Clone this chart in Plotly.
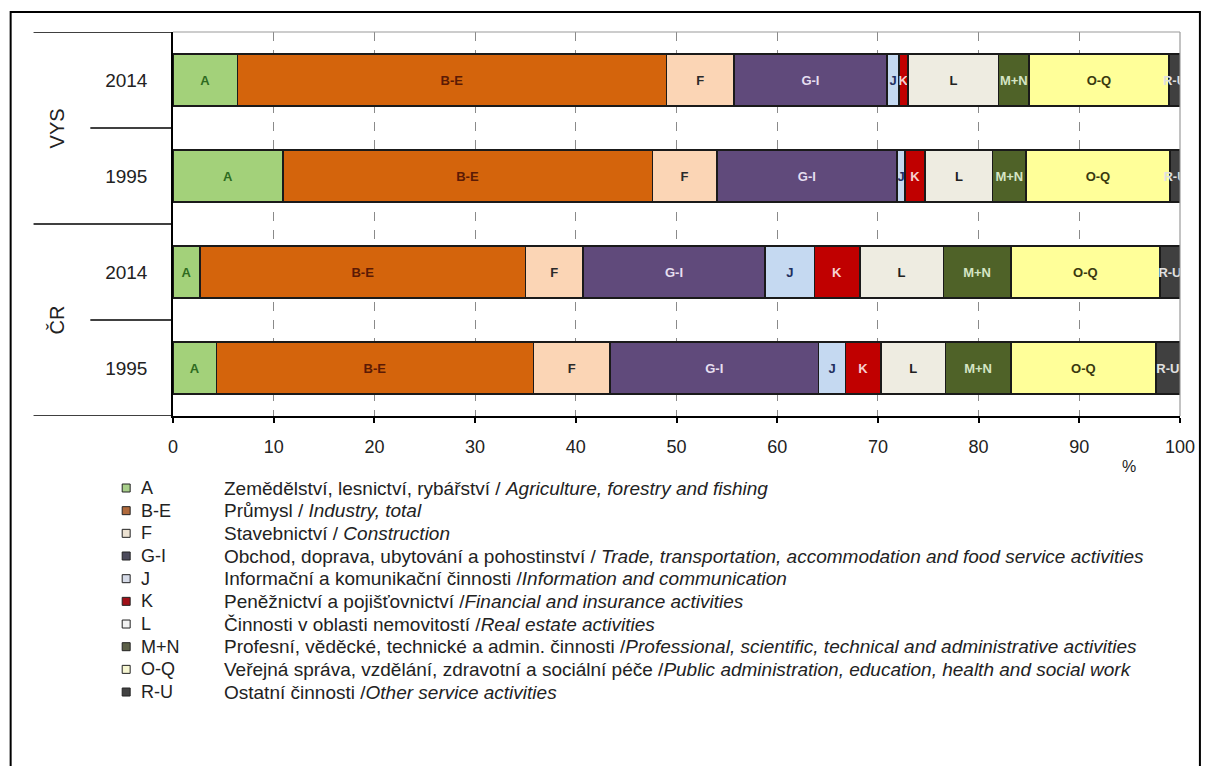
import plotly.graph_objects as go

# ---------------- data ----------------
codes = ["A", "B-E", "F", "G-I", "J", "K", "L", "M+N", "O-Q", "R-U"]
row_keys = ["ČR 1995", "ČR 2014", "VYS 1995", "VYS 2014"]   # bottom -> top
row_years = ["1995", "2014", "1995", "2014"]
groups = ["ČR", "VYS"]

cr_1995 = [4.3, 31.5, 7.6, 20.7, 2.7, 3.5, 6.4, 6.5, 14.4, 2.4]
cr_2014 = [2.7, 32.3, 5.7, 18.1, 4.9, 4.5, 8.3, 6.7, 14.8, 2.0]
vys_1995 = [10.9, 36.7, 6.4, 17.9, 0.8, 2.0, 6.7, 3.3, 14.3, 1.0]
vys_2014 = [6.4, 42.6, 6.7, 15.2, 1.2, 0.9, 9.0, 3.0, 13.9, 1.1]

x_ticks = [0, 10, 20, 30, 40, 50, 60, 70, 80, 90, 100]

legend_cz = [
    "Zemědělství, lesnictví, rybářství / ",
    "Průmysl / ",
    "Stavebnictví / ",
    "Obchod, doprava, ubytování a pohostinství / ",
    "Informační a komunikační činnosti /",
    "Peněžnictví a pojišťovnictví /",
    "Činnosti v oblasti nemovitostí /",
    "Profesní, věděcké, technické a admin. činnosti /",
    "Veřejná správa, vzdělání, zdravotní a sociální péče /",
    "Ostatní činnosti /",
]
legend_en = [
    "Agriculture, forestry and fishing",
    "Industry, total",
    "Construction",
    "Trade, transportation, accommodation and food service activities",
    "Information and communication",
    "Financial and insurance activities",
    "Real estate activities",
    "Professional, scientific, technical and administrative activities",
    "Public administration, education, health and social work",
    "Other service activities",
]

# ---------------- styles ----------------
bar_colors = ["#a3d17a", "#d4640c", "#fbd5b5", "#604a7b", "#c5d9f1",
              "#c00000", "#eeece1", "#4f6228", "#ffff99", "#404040"]
text_colors = ["#2e6b1f", "#5b1a05", "#2a2a2a", "#e6dff0", "#1f2f5f",
               "#f6d0d0", "#202020", "#d5e5c5", "#3a3a10", "#e0e0e0"]
legend_sq_colors = ["#a8cf8a", "#b06a3c", "#ece2d2", "#4c4b5c", "#d6dbe8",
                    "#a01018", "#f2f2f2", "#5c6048", "#f6f6d2", "#424242"]

FONT = "Liberation Sans, Arial, sans-serif"

# page has an 8px body margin -> figure drawn 8px right/down
W, H = 1199, 758
L_M, T_M = 165, 24
PW, PH = 1011, 384
R_M = W - L_M - PW
B_M = H - T_M - PH


def px_x(px):           # reference screenshot x -> paper
    return (px - 173) / PW


def px_y(py):           # reference screenshot y -> paper
    return (416 - py) / PH


fig = go.Figure()
rows = [cr_1995, cr_2014, vys_1995, vys_2014]
for i, code in enumerate(codes):
    fig.add_trace(go.Bar(
        orientation="h",
        y=row_keys,
        x=[r[i] for r in rows],
        name=code,
        marker=dict(color=bar_colors[i], line=dict(color="#1a1a1a", width=1.5)),
        width=0.54,
        text=[code] * len(row_keys),
        textposition="inside",
        insidetextanchor="middle",
        textangle=0,
        textfont=dict(family=FONT, size=13, color=text_colors[i], weight="bold"),
        showlegend=False,
        hoverinfo="x+name",
    ))

shapes = []
annotations = []

# outer frame
shapes.append(dict(type="rect", xref="paper", yref="paper",
                   x0=px_x(10), x1=px_x(1204), y0=px_y(800), y1=px_y(12),
                   line=dict(color="black", width=2), layer="above"))
# top and right light border of plot
shapes.append(dict(type="line", xref="paper", yref="paper", x0=0, x1=1, y0=1, y1=1,
                   line=dict(color="#9a9a9a", width=1.2)))
shapes.append(dict(type="line", xref="paper", yref="paper", x0=1, x1=1, y0=0, y1=1,
                   line=dict(color="#9a9a9a", width=1.2)))
# category separator lines on the left
for yv, start_px in [(3.5, 33), (2.5, 90), (1.5, 33), (0.5, 90), (-0.5, 33)]:
    shapes.append(dict(type="line", xref="paper", yref="y",
                       x0=px_x(start_px), x1=0, y0=yv, y1=yv,
                       line=dict(color="black", width=1.5)))

# group labels
for g, yv in zip(groups, [0.5, 2.5]):
    annotations.append(dict(text=g, xref="paper", yref="y", x=px_x(57), y=yv,
                            xanchor="center", yanchor="middle",
                            showarrow=False, textangle=-90,
                            font=dict(family=FONT, size=20, color="#222")))

# % label
annotations.append(dict(text="%", xref="paper", yref="paper", x=px_x(1133), y=px_y(466),
                        xanchor="center", yanchor="middle",
                        showarrow=False, font=dict(family=FONT, size=16, color="#222")))

# custom legend
row0, step = 488, 22.67
for i, code in enumerate(codes):
    yc = row0 + i * step
    shapes.append(dict(type="rect", xref="paper", yref="paper",
                       x0=px_x(122), x1=px_x(130), y0=px_y(yc + 4), y1=px_y(yc - 4),
                       fillcolor=legend_sq_colors[i], line=dict(color="#222", width=1)))
    annotations.append(dict(text=code, xref="paper", yref="paper", x=px_x(139), y=px_y(yc),
                            xanchor="left", yanchor="middle", showarrow=False,
                            font=dict(family=FONT, size=18, color="#222")))
    annotations.append(dict(text=legend_cz[i] + "<i>" + legend_en[i] + "</i>",
                            xref="paper", yref="paper", x=px_x(222), y=px_y(yc),
                            xanchor="left", yanchor="middle", showarrow=False,
                            font=dict(family=FONT, size=19, color="#222")))

fig.update_layout(
    width=W, height=H,
    margin=dict(l=L_M, r=R_M, t=T_M, b=B_M),
    barmode="stack",
    plot_bgcolor="white",
    paper_bgcolor="white",
    font=dict(family=FONT, color="#222"),
    uniformtext=dict(minsize=13, mode="show"),
    shapes=shapes,
    annotations=annotations,
    xaxis=dict(
        range=[0, 100],
        tickvals=x_ticks,
        ticktext=[str(t) for t in x_ticks],
        showgrid=True, gridcolor="#8a8a8a", griddash="dash", gridwidth=1,
        zeroline=False,
        showline=True, linecolor="black", linewidth=1.5,
        ticks="outside", ticklen=5, tickcolor="black", tickwidth=1.5,
        ticklabelstandoff=9,
        tickfont=dict(family=FONT, size=18, color="#222"),
        fixedrange=True,
    ),
    yaxis=dict(
        type="category",
        categoryorder="array", categoryarray=row_keys,
        tickvals=row_keys, ticktext=row_years,
        range=[-0.5, 3.5],
        showgrid=False, zeroline=False,
        showline=True, linecolor="black", linewidth=1.5,
        ticks="", ticklabelstandoff=20,
        tickfont=dict(family=FONT, size=19, color="#222"),
        fixedrange=True,
    ),
)

fig.write_html("out.html")
